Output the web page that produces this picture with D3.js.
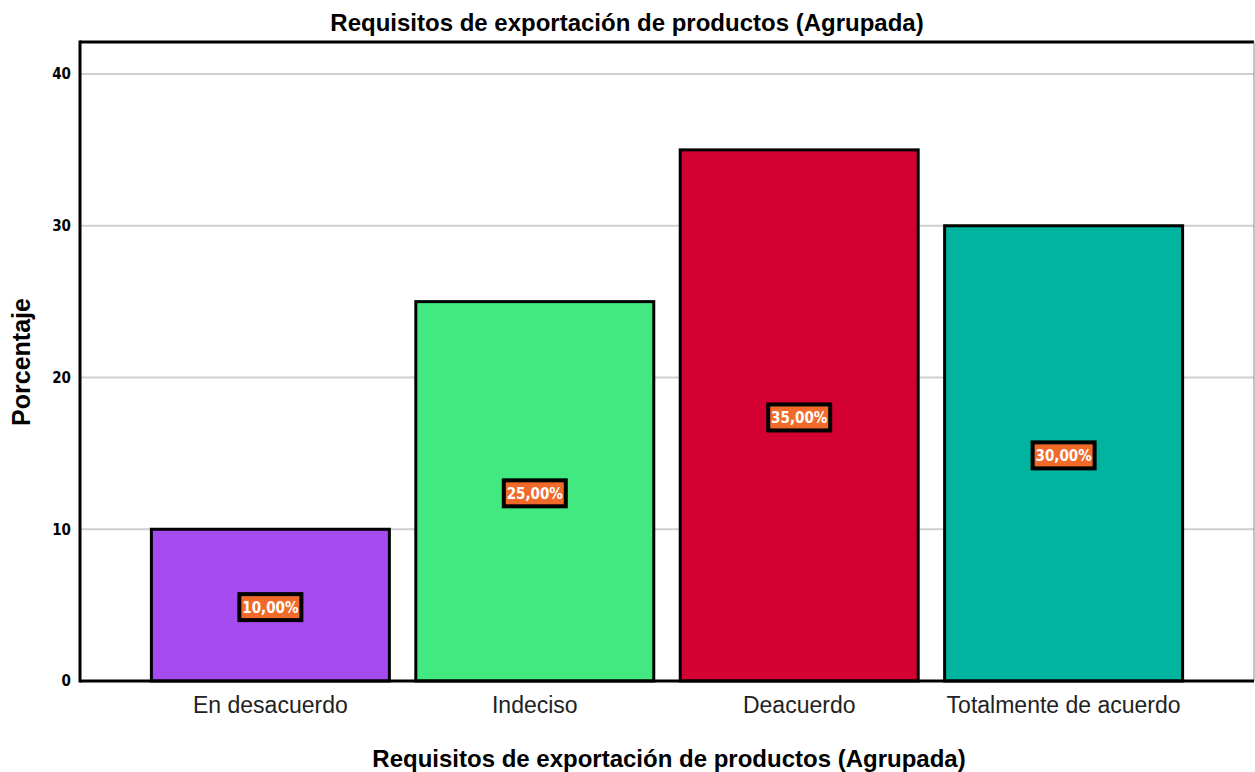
<!DOCTYPE html>
<html>
<head>
<meta charset="utf-8">
<script src="https://cdn.jsdelivr.net/npm/d3@7"></script>
<style>
  body { margin: 0; background: #fff; }
</style>
</head>
<body>
<div id="wrapper"></div>
<script>
const categories = ["En desacuerdo", "Indeciso", "Deacuerdo", "Totalmente de acuerdo"]
const values = [10, 25, 35, 30]
const labels = ["10,00%", "25,00%", "35,00%", "30,00%"]
const colors = ["#a64bf0", "#42e880", "#d50032", "#00b4a0"]
const yTicks = [0, 10, 20, 30, 40]

const width = 1255
const height = 772
const dimensions = {
    width: width,
    height: height,
    margin: { top: 42, bottom: 91, left: 80, right: 1 }
}
dimensions.boundedWidth = dimensions.width - dimensions.margin.left - dimensions.margin.right
dimensions.boundedHeight = dimensions.height - dimensions.margin.top - dimensions.margin.bottom

const condensed = "'DejaVu Sans Condensed', 'Liberation Sans Narrow', 'Liberation Sans', Arial, sans-serif"
const regular = "'Liberation Sans', Arial, sans-serif"

const svg = d3.select("#wrapper").append("svg")
    .attr("width", dimensions.width)
    .attr("height", dimensions.height)

const bounded = svg.append("g")
    .attr("transform", `translate(${dimensions.margin.left},${dimensions.margin.top})`)

// 0 at y=681, 40 at y=74
const yScale = d3.scaleLinear()
    .domain([0, 40])
    .range([681 - dimensions.margin.top, 74 - dimensions.margin.top])

const xScale = d3.scaleBand()
    .domain(categories)
    .range([0, dimensions.boundedWidth])
    .paddingInner(0.1)
    .paddingOuter(0.27)

// gridlines
bounded.append("g")
    .selectAll("line")
    .data(yTicks.filter(d => d > 0))
    .join("line")
    .attr("x1", 0)
    .attr("x2", dimensions.boundedWidth)
    .attr("y1", d => yScale(d))
    .attr("y2", d => yScale(d))
    .attr("stroke", "#cfcfcf")
    .attr("stroke-width", 2)

// y tick labels
const yAxis = d3.axisLeft(yScale).tickValues(yTicks).tickSize(0).tickPadding(9)
const yAxisG = bounded.append("g").call(yAxis)
yAxisG.select(".domain").remove()
yAxisG.selectAll("text")
    .style("font-family", condensed)
    .style("font-weight", "bold")
    .style("font-size", "15px")
    .attr("fill", "#000")

// bars
const data = categories.map((c, i) => ({ cat: c, val: values[i], label: labels[i], color: colors[i] }))

bounded.append("g")
    .selectAll("rect")
    .data(data)
    .join("rect")
    .attr("x", d => xScale(d.cat))
    .attr("width", xScale.bandwidth())
    .attr("y", d => yScale(d.val))
    .attr("height", d => yScale(0) - yScale(d.val))
    .attr("fill", d => d.color)
    .attr("stroke", "#000")
    .attr("stroke-width", 3)

// value label boxes
const lab = bounded.append("g")
    .selectAll("g")
    .data(data)
    .join("g")
    .attr("transform", d => `translate(${xScale(d.cat) + xScale.bandwidth() / 2},${yScale(d.val / 2) + 2})`)

lab.append("rect")
    .attr("x", -31)
    .attr("y", -13)
    .attr("width", 62)
    .attr("height", 26)
    .attr("fill", "#f06a2a")
    .attr("stroke", "#000")
    .attr("stroke-width", 4)

lab.append("text")
    .text(d => d.label)
    .attr("text-anchor", "middle")
    .attr("dy", "0.36em")
    .attr("fill", "#fff")
    .style("font-family", condensed)
    .style("font-weight", "bold")
    .style("font-size", "15px")

// frame
bounded.append("line")
    .attr("x1", 0).attr("x2", dimensions.boundedWidth)
    .attr("y1", 0).attr("y2", 0)
    .attr("stroke", "#000").attr("stroke-width", 3)
bounded.append("line")
    .attr("x1", dimensions.boundedWidth).attr("x2", dimensions.boundedWidth)
    .attr("y1", 0).attr("y2", yScale(0))
    .attr("stroke", "#888").attr("stroke-width", 1)
bounded.append("line")
    .attr("x1", 0).attr("x2", 0)
    .attr("y1", -1.5).attr("y2", yScale(0) + 1.5)
    .attr("stroke", "#000").attr("stroke-width", 3)
bounded.append("line")
    .attr("x1", 0).attr("x2", dimensions.boundedWidth)
    .attr("y1", yScale(0)).attr("y2", yScale(0))
    .attr("stroke", "#000").attr("stroke-width", 3)

// category labels
const xAxis = d3.axisBottom(xScale).tickSize(0).tickPadding(16)
const xAxisG = bounded.append("g")
    .attr("transform", `translate(0,${yScale(0)})`)
    .call(xAxis)
xAxisG.select(".domain").remove()
xAxisG.selectAll("text")
    .style("font-family", regular)
    .style("font-size", "23px")
    .attr("fill", "#222")

// titles
svg.append("text")
    .text("Requisitos de exportación de productos (Agrupada)")
    .attr("x", 627)
    .attr("y", 31)
    .attr("text-anchor", "middle")
    .style("font-family", regular)
    .style("font-weight", "bold")
    .style("font-size", "24px")

svg.append("text")
    .text("Requisitos de exportación de productos (Agrupada)")
    .attr("x", 669)
    .attr("y", 767)
    .attr("text-anchor", "middle")
    .style("font-family", regular)
    .style("font-weight", "bold")
    .style("font-size", "24px")

svg.append("text")
    .text("Porcentaje")
    .attr("transform", "translate(30,362) rotate(-90)")
    .attr("text-anchor", "middle")
    .style("font-family", regular)
    .style("font-weight", "bold")
    .style("font-size", "25px")
</script>
</body>
</html>
